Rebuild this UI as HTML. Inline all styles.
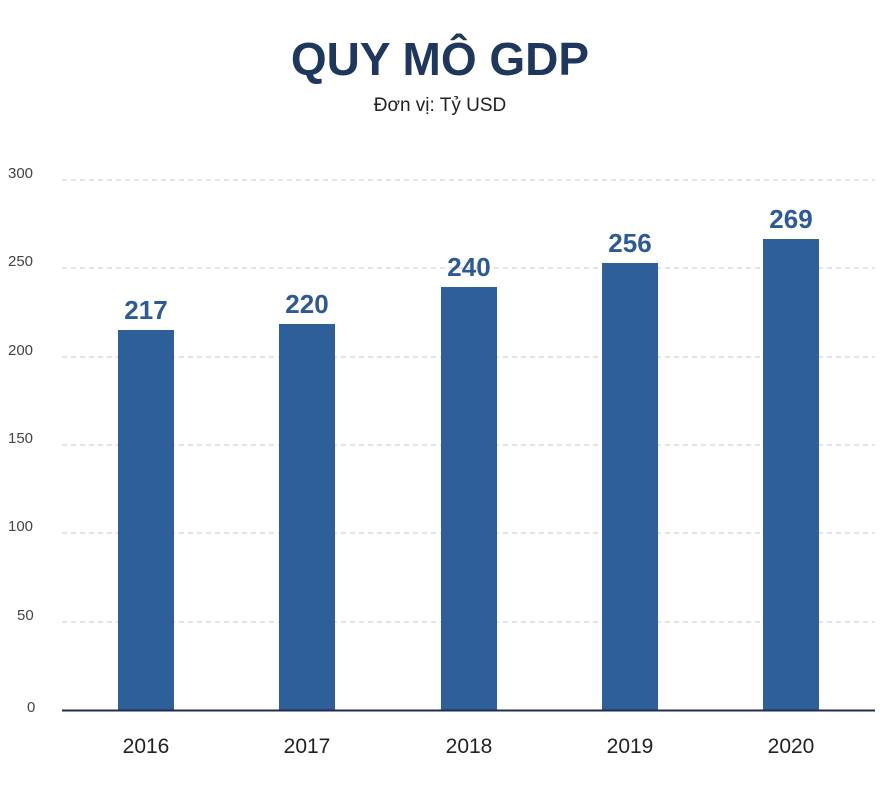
<!DOCTYPE html>
<html><head><meta charset="utf-8"><style>
body{margin:0;background:#fff;width:880px;height:800px;overflow:hidden;font-family:"Liberation Sans",sans-serif;}
</style></head><body>
<svg width="880" height="800" xmlns="http://www.w3.org/2000/svg" font-family="Liberation Sans, sans-serif">
<text x="440" y="75" text-anchor="middle" font-size="46" font-weight="bold" fill="#1f375c">QUY MÔ GDP</text>
<text x="440" y="111" text-anchor="middle" font-size="19" fill="#222">Đơn vị: Tỷ USD</text>
<g stroke="#c8c8c8" stroke-dasharray="5,4" stroke-width="1">
<line x1="62" x2="875" y1="180" y2="180"/>
<line x1="62" x2="875" y1="268" y2="268"/>
<line x1="62" x2="875" y1="357" y2="357"/>
<line x1="62" x2="875" y1="445" y2="445"/>
<line x1="62" x2="875" y1="533" y2="533"/>
<line x1="62" x2="875" y1="622" y2="622"/>
</g>
<g font-size="15" fill="#444">
<text x="8" y="178">300</text>
<text x="8" y="266">250</text>
<text x="8" y="355">200</text>
<text x="8" y="443">150</text>
<text x="8" y="531">100</text>
<text x="17" y="620">50</text>
<text x="27" y="712">0</text>
</g>
<g fill="#2e5f99">
<rect x="118" y="330" width="56" height="380"/>
<rect x="279" y="324" width="56" height="386"/>
<rect x="441" y="287" width="56" height="423"/>
<rect x="602" y="263" width="56" height="447"/>
<rect x="763" y="239" width="56" height="471"/>
</g>
<line x1="62" x2="875" y1="710.5" y2="710.5" stroke="#1f2f4a" stroke-width="2"/>
<g font-size="26" font-weight="bold" fill="#2e5a94" text-anchor="middle">
<text x="146" y="319">217</text>
<text x="307" y="313">220</text>
<text x="469" y="276">240</text>
<text x="630" y="252">256</text>
<text x="791" y="228">269</text>
</g>
<g font-size="21" fill="#222" text-anchor="middle">
<text x="146" y="753">2016</text>
<text x="307" y="753">2017</text>
<text x="469" y="753">2018</text>
<text x="630" y="753">2019</text>
<text x="791" y="753">2020</text>
</g>
</svg>
</body></html>
